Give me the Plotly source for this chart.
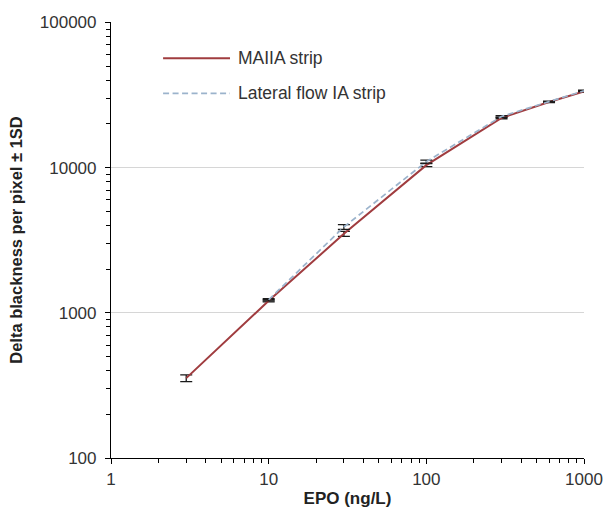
import plotly.graph_objects as go

# EPO concentration (ng/L) and mean delta blackness per pixel with 1 SD
maiia_epo = [3, 10, 30, 100, 300, 600, 1000]
maiia_signal = [355, 1210, 3500, 10400, 22000, 28300, 33500]
maiia_sd = [19, 20, 140, 250, 300, 200, 400]

lfia_epo = [10, 30, 100, 300, 600, 1000]
lfia_signal = [1230, 3900, 11000, 22500, 28500, 33800]
lfia_sd = [20, 150, 250, 300, 200, 400]

series_names = ["MAIIA strip", "Lateral flow IA strip"]

x_ticks = [1, 10, 100, 1000]
y_ticks = [100, 1000, 10000, 100000]
x_minor = [m * d for d in (1, 10, 100) for m in range(2, 10)]
y_minor = [m * d for d in (100, 1000, 10000) for m in range(2, 10)]

font_family = "Liberation Sans, Arial, sans-serif"
maiia_color = "#a03c3f"
lfia_color = "#9bb3cc"
lfia_dash = "6px,3.5px"
text_color = "#333333"

fig = go.Figure()
fig.add_trace(go.Scatter(
    x=maiia_epo, y=maiia_signal, mode="lines", name=series_names[0],
    line=dict(color=maiia_color, width=2),
    error_y=dict(type="data", array=maiia_sd, visible=True,
                 color="#1a1a1a", thickness=1.3, width=6),
))
fig.add_trace(go.Scatter(
    x=lfia_epo, y=lfia_signal, mode="lines", name=series_names[1],
    line=dict(color=lfia_color, width=1.7, dash=lfia_dash),
    error_y=dict(type="data", array=lfia_sd, visible=True,
                 color="#1a1a1a", thickness=1.3, width=6),
))

# Hand-drawn legend (longer sample lines than Plotly's built-in legend)
legend_rows = [(0.9166, maiia_color, "solid", 2), (0.8362, lfia_color, lfia_dash, 1.7)]
for (ypos, col, dash, w), label in zip(legend_rows, series_names):
    fig.add_shape(type="line", xref="paper", yref="paper",
                  x0=0.1101, x1=0.2516, y0=ypos, y1=ypos,
                  line=dict(color=col, width=w, dash=dash))
    fig.add_annotation(xref="paper", yref="paper", x=0.265, y=ypos,
                       xanchor="left", yanchor="middle", showarrow=False,
                       text=label, font=dict(size=17.5, color=text_color))

fig.update_layout(
    width=605, height=510,
    margin=dict(l=111, r=21, t=22, b=52),
    paper_bgcolor="white", plot_bgcolor="white",
    font=dict(family=font_family, size=17, color=text_color),
    showlegend=False,
)
fig.update_xaxes(
    type="log", range=[0, 3.0], tickvals=x_ticks,
    ticktext=[str(v) for v in x_ticks], automargin=False,
    showgrid=False, zeroline=False,
    showline=True, linecolor="black", linewidth=1.2,
    ticks="outside", ticklen=5, tickcolor="black", tickwidth=1,
    minor=dict(ticks="outside", ticklen=4, tickcolor="black",
               tickvals=x_minor, showgrid=False),
    tickfont=dict(size=17, color=text_color),
    title=dict(text="<b>EPO (ng/L)</b>", font=dict(size=17, color="#222222"), standoff=4),
)
fig.update_yaxes(
    type="log", range=[2, 5.003], tickvals=y_ticks,
    ticktext=[str(v) for v in y_ticks], automargin=False,
    showgrid=True, gridcolor="#d6d6d6", gridwidth=1, zeroline=False,
    showline=True, linecolor="black", linewidth=1.2,
    ticks="outside", ticklen=5, tickcolor="black", tickwidth=1,
    minor=dict(ticks="outside", ticklen=4, tickcolor="black",
               tickvals=y_minor, showgrid=False),
    tickfont=dict(size=17, color=text_color), ticklabelstandoff=5,
    title=dict(text="<b>Delta blackness per pixel ± 1SD</b>",
               font=dict(size=16.5, color="#222222"), standoff=12),
)

fig.write_html("out.html")
